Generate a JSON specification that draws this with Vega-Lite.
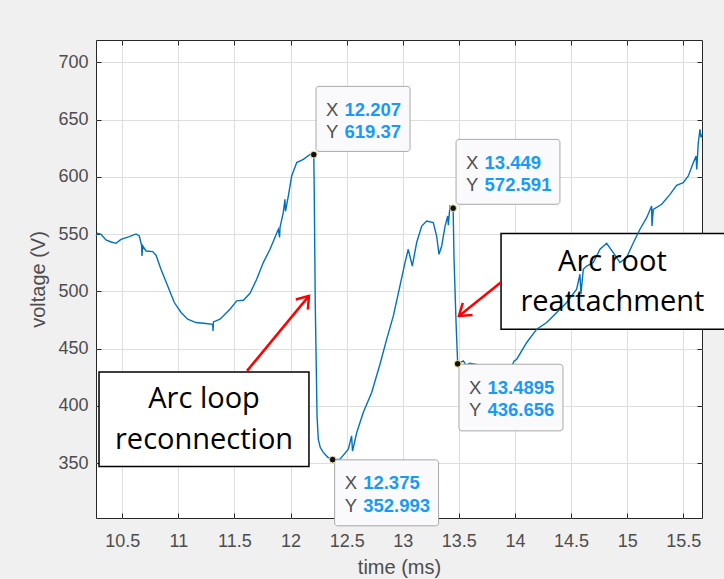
{
  "$schema": "https://vega.github.io/schema/vega-lite/v6.json",
  "width": 606,
  "height": 478,
  "autosize": {"type": "none"},
  "padding": {"left": 96, "top": 40, "right": 22, "bottom": 61},
  "background": "#f0f0f0",
  "config": {
    "view": {"stroke": "#262626", "strokeWidth": 1, "fill": "white"},
    "axis": {
      "labelFont": "Liberation Sans", "labelFontSize": 18, "labelColor": "#4d4d4d",
      "titleFont": "Liberation Sans", "titleFontSize": 20, "titleFontWeight": "normal", "titleColor": "#4d4d4d",
      "gridColor": "#dedede", "gridWidth": 1, "tickColor": "#262626", "tickSize": -5, "tickWidth": 1,
      "domain": false, "labelOverlap": false
    },
    "axisX": {"labelPadding": 19, "titlePadding": 7},
    "axisY": {"labelPadding": 13, "titlePadding": 9}
  },
  "datasets": {
    "curve": [
      {"t":10.266,"v":548.3},{"t":10.281,"v":550.7},{"t":10.311,"v":549.8},{"t":10.355,"v":544.8},{"t":10.4,"v":543.1},{"t":10.444,"v":541.9},{"t":10.489,"v":545.4},{"t":10.563,"v":547.8},{"t":10.623,"v":550.1},{"t":10.652,"v":548.3},{"t":10.672,"v":540.2},{"t":10.676,"v":530.9},{"t":10.682,"v":539.6},{"t":10.712,"v":535.2},{"t":10.771,"v":534.7},{"t":10.801,"v":531.5},{"t":10.845,"v":519.3},{"t":10.905,"v":504.7},{"t":10.964,"v":490.2},{"t":11.024,"v":481.5},{"t":11.083,"v":475.6},{"t":11.157,"v":472.7},{"t":11.246,"v":471.9},{"t":11.306,"v":471.2},{"t":11.309,"v":465.4},{"t":11.313,"v":473.3},{"t":11.371,"v":475.6},{"t":11.46,"v":484.3},{"t":11.52,"v":491.6},{"t":11.579,"v":492.2},{"t":11.639,"v":498.3},{"t":11.698,"v":510.5},{"t":11.757,"v":525.1},{"t":11.817,"v":536.7},{"t":11.891,"v":554.2},{"t":11.902,"v":547},{"t":11.906,"v":555.9},{"t":11.935,"v":568.7},{"t":11.95,"v":580.3},{"t":11.955,"v":569.9},{"t":11.98,"v":583.2},{"t":12.01,"v":600.7},{"t":12.055,"v":612.4},{"t":12.114,"v":615.3},{"t":12.173,"v":619.6},{"t":12.207,"v":619.37},{"t":12.211,"v":587.6},{"t":12.22,"v":490.2},{"t":12.236,"v":391.2},{"t":12.247,"v":370.9},{"t":12.265,"v":363.5},{"t":12.292,"v":359.3},{"t":12.33,"v":355.2},{"t":12.375,"v":352.993},{"t":12.441,"v":353.4},{"t":12.515,"v":362.1},{"t":12.544,"v":373.8},{"t":12.552,"v":360.4},{"t":12.59,"v":376.7},{"t":12.648,"v":394.2},{"t":12.723,"v":411.6},{"t":12.797,"v":436.3},{"t":12.857,"v":458.2},{"t":12.916,"v":478.5},{"t":12.975,"v":504.7},{"t":13.02,"v":525.1},{"t":13.049,"v":536.7},{"t":13.085,"v":522.1},{"t":13.124,"v":542.6},{"t":13.169,"v":557},{"t":13.213,"v":561.4},{"t":13.272,"v":560},{"t":13.302,"v":548.3},{"t":13.323,"v":532.3},{"t":13.347,"v":539.6},{"t":13.377,"v":557},{"t":13.401,"v":565.8},{"t":13.406,"v":557.7},{"t":13.421,"v":574.5},{"t":13.449,"v":572.591},{"t":13.457,"v":528},{"t":13.475,"v":472.7},{"t":13.4895,"v":436.656},{"t":13.54,"v":439.3},{"t":13.564,"v":435.5},{"t":13.599,"v":437.2},{"t":13.777,"v":433.8},{"t":13.911,"v":432},{"t":13.974,"v":434.9},{"t":13.991,"v":438.9},{"t":14.016,"v":440.7},{"t":14.105,"v":455.3},{"t":14.194,"v":466.9},{"t":14.283,"v":472.7},{"t":14.372,"v":481.5},{"t":14.461,"v":490.2},{"t":14.55,"v":501.8},{"t":14.579,"v":514.9},{"t":14.588,"v":497.4},{"t":14.609,"v":519.3},{"t":14.639,"v":522.1},{"t":14.698,"v":525.1},{"t":14.758,"v":536.7},{"t":14.817,"v":542},{"t":14.876,"v":533.8},{"t":14.936,"v":525.1},{"t":14.995,"v":529.5},{"t":15.055,"v":542.4},{"t":15.114,"v":554.2},{"t":15.174,"v":564.3},{"t":15.218,"v":574.5},{"t":15.221,"v":557},{"t":15.233,"v":571.6},{"t":15.308,"v":576},{"t":15.382,"v":584.7},{"t":15.441,"v":592.6},{"t":15.5,"v":594.9},{"t":15.545,"v":600.7},{"t":15.59,"v":612.4},{"t":15.614,"v":618.2},{"t":15.62,"v":606.5},{"t":15.634,"v":629.8},{"t":15.649,"v":641.4},{"t":15.658,"v":634.5},{"t":15.667,"v":637}
    ],
    "tips": [
      {"t":12.207,"v":619.37,"xs":"12.207","ys":"619.37","bx1":12.227,"bx2":13.065,"by1":679.0,"by2":622.2},
      {"t":13.449,"v":572.591,"xs":"13.449","ys":"572.591","bx1":13.475,"bx2":14.401,"by1":632.7,"by2":576.0},
      {"t":13.4895,"v":436.656,"xs":"13.4895","ys":"436.656","bx1":13.501,"bx2":14.428,"by1":436.3,"by2":378.1},
      {"t":12.375,"v":352.993,"xs":"12.375","ys":"352.993","bx1":12.393,"bx2":13.319,"by1":352.8,"by2":295.2}
    ],
    "noteBoxes": [
      {"bx1":10.293,"bx2":12.164,"by1":429.6,"by2":347},
      {"bx1":13.876,"bx2":15.881,"by1":550.4,"by2":466.9}
    ],
    "noteText": [
      {"text":"Arc loop","t":11.229,"v":397.9},
      {"text":"reconnection","t":11.229,"v":362.1},
      {"text":"Arc root","t":14.869,"v":517.8},
      {"text":"reattachment","t":14.869,"v":482.8}
    ],
    "arrows": [
      {"id":"a","t":11.612,"v":430.5,"t2":12.164,"v2":496.0},
      {"id":"b","t":13.876,"v":507.9,"t2":13.501,"v2":478.5}
    ]
  },
  "layer": [
    {
      "data": {"name": "noteBoxes"},
      "mark": {"type": "rect", "fill": "white", "stroke": "black", "strokeWidth": 1.5},
      "encoding": {
        "x": {"field": "bx1", "type": "quantitative", "scale": {"domain": [10.266, 15.667], "nice": false, "zero": false},
              "title": "time (ms)", "axis": {"values": [10.5, 11, 11.5, 12, 12.5, 13, 13.5, 14, 14.5, 15, 15.5], "format": "~f"}},
        "x2": {"field": "bx2"},
        "y": {"field": "by1", "type": "quantitative", "scale": {"domain": [302, 719.5], "nice": false, "zero": false},
              "title": "voltage (V)", "axis": {"values": [350, 400, 450, 500, 550, 600, 650, 700], "format": "~f"}},
        "y2": {"field": "by2"}
      }
    },
    {
      "data": {"name": "curve"},
      "mark": {"type": "line", "color": "#0072BD", "strokeWidth": 1.4},
      "encoding": {
        "x": {"field": "t", "type": "quantitative", "scale": {"domain": [10.266, 15.667], "nice": false, "zero": false}, "axis": null},
        "y": {"field": "v", "type": "quantitative", "scale": {"domain": [302, 719.5], "nice": false, "zero": false}, "axis": null}
      }
    },
    {
      "data": {"name": "noteText"},
      "mark": {"type": "text", "font": "Open Sans", "fontSize": 29, "color": "black", "align": "center", "baseline": "alphabetic"},
      "encoding": {
        "x": {"field": "t", "type": "quantitative", "scale": {"domain": [10.266, 15.667], "nice": false, "zero": false}, "axis": null},
        "y": {"field": "v", "type": "quantitative", "scale": {"domain": [302, 719.5], "nice": false, "zero": false}, "axis": null},
        "text": {"field": "text"}
      }
    },
    {
      "data": {"name": "arrows"},
      "mark": {"type": "rule", "color": "#ff0000", "strokeWidth": 2.5},
      "encoding": {
        "x": {"field": "t", "type": "quantitative", "scale": {"domain": [10.266, 15.667], "nice": false, "zero": false}, "axis": null},
        "y": {"field": "v", "type": "quantitative", "scale": {"domain": [302, 719.5], "nice": false, "zero": false}, "axis": null},
        "x2": {"field": "t2"},
        "y2": {"field": "v2"}
      }
    },
    {
      "data": {"name": "arrows"},
      "transform": [{"filter": "datum.id === 'a'"}],
      "mark": {"type": "point", "shape": "M-0.7,1L0,0L0.7,1", "filled": false, "stroke": "#ff0000", "strokeWidth": 2.5, "size": 500, "angle": 39.6, "opacity": 1},
      "encoding": {
        "x": {"field": "t2", "type": "quantitative", "scale": {"domain": [10.266, 15.667], "nice": false, "zero": false}, "axis": null},
        "y": {"field": "v2", "type": "quantitative", "scale": {"domain": [302, 719.5], "nice": false, "zero": false}, "axis": null}
      }
    },
    {
      "data": {"name": "arrows"},
      "transform": [{"filter": "datum.id === 'b'"}],
      "mark": {"type": "point", "shape": "M-0.7,1L0,0L0.7,1", "filled": false, "stroke": "#ff0000", "strokeWidth": 2.5, "size": 500, "angle": 231.3, "opacity": 1},
      "encoding": {
        "x": {"field": "t2", "type": "quantitative", "scale": {"domain": [10.266, 15.667], "nice": false, "zero": false}, "axis": null},
        "y": {"field": "v2", "type": "quantitative", "scale": {"domain": [302, 719.5], "nice": false, "zero": false}, "axis": null}
      }
    },
    {
      "data": {"name": "tips"},
      "mark": {"type": "rect", "fill": "#fafafc", "stroke": "#a8a8a8", "strokeWidth": 1, "cornerRadius": 3},
      "encoding": {
        "x": {"field": "bx1", "type": "quantitative", "scale": {"domain": [10.266, 15.667], "nice": false, "zero": false}, "axis": null},
        "x2": {"field": "bx2"},
        "y": {"field": "by1", "type": "quantitative", "scale": {"domain": [302, 719.5], "nice": false, "zero": false}, "axis": null},
        "y2": {"field": "by2"}
      }
    },
    {
      "data": {"name": "tips"},
      "layer": [
        {"mark": {"type": "text", "text": "X", "font": "Liberation Sans", "fontSize": 18.5, "color": "#505050", "align": "left", "baseline": "alphabetic", "dx": 10, "dy": 29.5}},
        {"mark": {"type": "text", "text": "Y", "font": "Liberation Sans", "fontSize": 18.5, "color": "#505050", "align": "left", "baseline": "alphabetic", "dx": 10, "dy": 52}},
        {"mark": {"type": "text", "font": "Liberation Sans", "fontSize": 18.5, "fontWeight": "bold", "color": "#1a9af5", "align": "left", "baseline": "alphabetic", "dx": 28.5, "dy": 29.5},
         "encoding": {"text": {"field": "xs"}}},
        {"mark": {"type": "text", "font": "Liberation Sans", "fontSize": 18.5, "fontWeight": "bold", "color": "#1a9af5", "align": "left", "baseline": "alphabetic", "dx": 28.5, "dy": 52},
         "encoding": {"text": {"field": "ys"}}}
      ],
      "encoding": {
        "x": {"field": "bx1", "type": "quantitative", "scale": {"domain": [10.266, 15.667], "nice": false, "zero": false}, "axis": null},
        "y": {"field": "by1", "type": "quantitative", "scale": {"domain": [302, 719.5], "nice": false, "zero": false}, "axis": null}
      }
    },
    {
      "data": {"name": "tips"},
      "mark": {"type": "point", "filled": true, "fill": "#111111", "stroke": "#f2e6a6", "strokeWidth": 1, "size": 45, "opacity": 1},
      "encoding": {
        "x": {"field": "t", "type": "quantitative", "scale": {"domain": [10.266, 15.667], "nice": false, "zero": false},
              "axis": {"orient": "top", "labels": false, "grid": false, "title": null, "values": [10.5, 11, 11.5, 12, 12.5, 13, 13.5, 14, 14.5, 15, 15.5]}},
        "y": {"field": "v", "type": "quantitative", "scale": {"domain": [302, 719.5], "nice": false, "zero": false},
              "axis": {"orient": "right", "labels": false, "grid": false, "title": null, "values": [350, 400, 450, 500, 550, 600, 650, 700]}}
      }
    }
  ],
  "resolve": {"axis": {"x": "independent", "y": "independent"}}
}
